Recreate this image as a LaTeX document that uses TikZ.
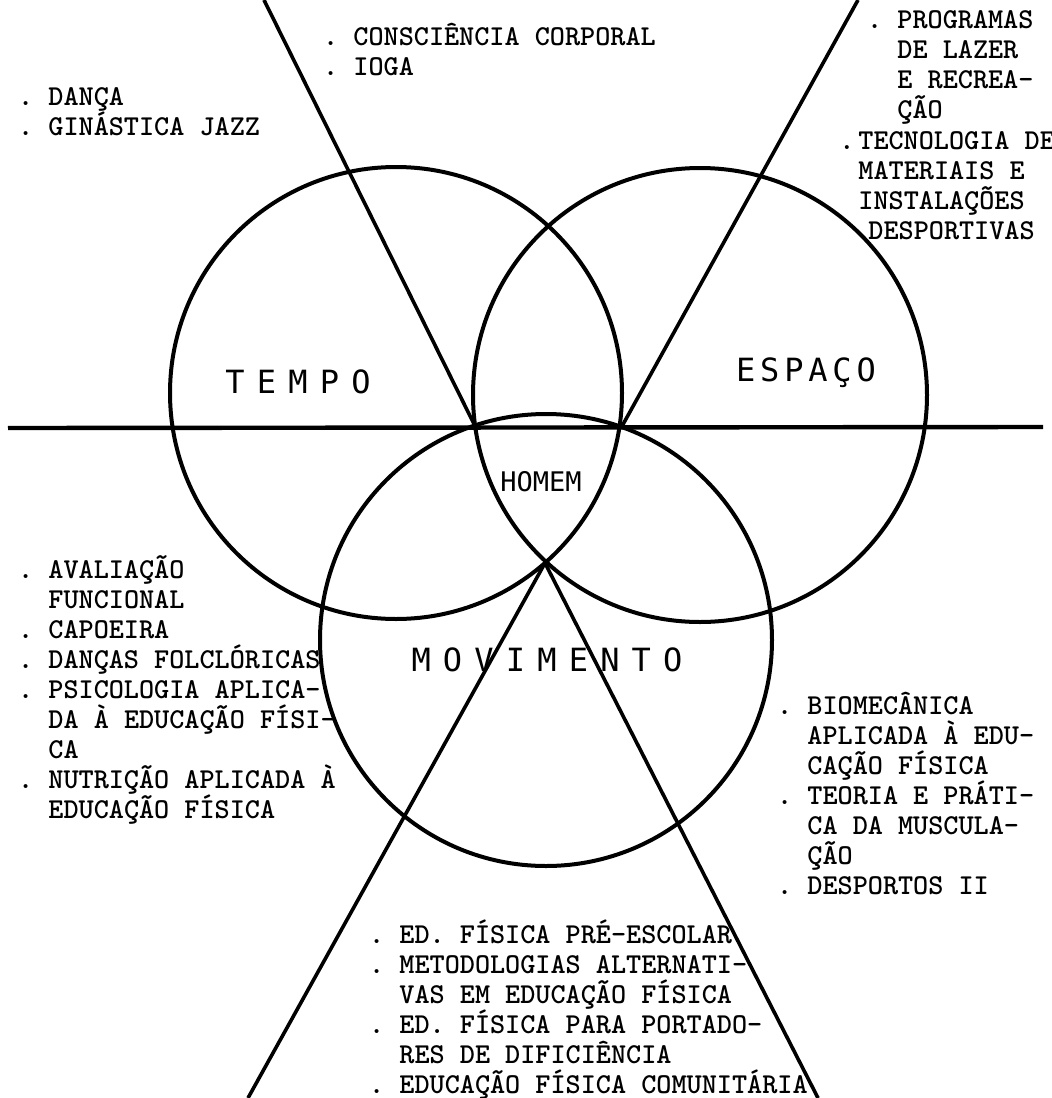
\documentclass[tikz,border=0pt]{standalone}
\usepackage{fontspec}
\newfontfamily\lettering{DejaVu Sans Mono}
\newcommand{\itm}{\llap{.\ }}

\begin{document}
\begin{tikzpicture}[x=0.5pt, y=-0.5pt,
    ring/.style={circle, draw, line width=2pt, inner sep=0pt, minimum size=#1},
    ray/.style={line width=1.8pt},
    topic/.style={inner sep=0pt, font={\lettering\fontsize{16}{16}\selectfont\spaceskip=#1\relax}},
    subject/.style={anchor=base west, align=left, inner sep=0pt,
      font=\ttfamily\bfseries\fontsize{14.4}{15}\selectfont}]
      \useasboundingbox[fill=white] (0,0) rectangle (1052,1098);
      % Tempo, Espaco, Movimento:
      %   the three rings, HOMEM sits where all of them overlap
      \node[ring=226pt] (tempo) at (396,393) {};
      \node[ring=227pt] (espaco) at (700,395) {};
      \node[ring=226pt] (movimento) at (546,640) {};
      % Rays:
      %   the axis and the four lines that split the page
      \coordinate (west) at (8,428);
      \coordinate (east) at (1043,427);
      \coordinate (left) at (476,428);
      \coordinate (right) at (621,428);
      \coordinate (low) at (545,563);
      \coordinate (nw) at (264,0);
      \coordinate (ne) at (858,0);
      \coordinate (sw) at (248,1098);
      \coordinate (se) at (818,1098);
      \draw[ray, line width=2.2pt] (west) -- (east);
      \draw[ray] (nw) -- (left);
      \draw[ray] (ne) -- (right);
      \draw[ray] (sw) -- (low) -- (se);
      % Labels of the rings
      \node[topic=6.1pt] (tempolabel) at (298,382) {T E M P O};
      \node[topic=2.4pt] (espacolabel) at (806,373) {E S P A Ç O};
      \node[topic=6.1pt] (movlabel) at (547,660) {M O V I M E N T O};
      \node[inner sep=0pt, font=\lettering\fontsize{13.5}{14}\selectfont] (homem) at (541,482) {HOMEM};
      % Subjects:
      %   one block for each sector between the rays,
      %   placed at the baseline of its last line
      \node[subject] (danca) at (48,135) {\itm DANÇA\\\itm GINÁSTICA JAZZ};
      \node[subject] (consciencia) at (353,75) {\itm CONSCIÊNCIA CORPORAL\\\itm IOGA};
      \node[subject] (lazer) at (897,118) {\itm PROGRAMAS\\DE LAZER\\E RECREA-\\ÇÃO};
      \node[subject] (materiais) at (858,239) {\llap{.\kern2pt}TECNOLOGIA DE\\MATERIAIS E\\INSTALAÇÕES\\\kern5pt DESPORTIVAS};
      \node[subject] (avaliacao) at (48,818) {\itm AVALIAÇÃO\\FUNCIONAL\\\itm CAPOEIRA\\\itm DANÇAS FOLCLÓRICAS\\\itm PSICOLOGIA APLICA-\\DA À EDUCAÇÃO FÍSI-\\CA\\\itm NUTRIÇÃO APLICADA À\\EDUCAÇÃO FÍSICA};
      \node[subject] (biomecanica) at (807,894) {\itm BIOMECÂNICA\\APLICADA À EDU-\\CAÇÃO FÍSICA\\\itm TEORIA E PRÁTI-\\CA DA MUSCULA-\\ÇÃO\\\itm DESPORTOS II};
      \node[subject] (escolar) at (399,1093) {\itm ED. FÍSICA PRÉ-ESCOLAR\\\itm METODOLOGIAS ALTERNATI-\\VAS EM EDUCAÇÃO FÍSICA\\\itm ED. FÍSICA PARA PORTADO-\\RES DE DIFICIÊNCIA\\\itm EDUCAÇÃO FÍSICA COMUNITÁRIA};
    \end{tikzpicture}
\end{document}
